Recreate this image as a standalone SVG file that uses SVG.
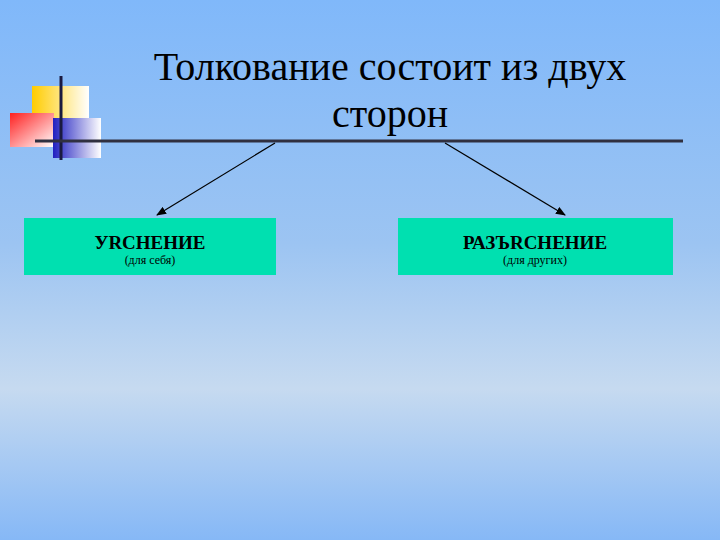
<svg xmlns="http://www.w3.org/2000/svg" width="720" height="540" viewBox="0 0 720 540">
<defs>
<linearGradient id="bg" x1="0" y1="0" x2="0" y2="1">
<stop offset="0" stop-color="#80b8fa"/><stop offset="0.45" stop-color="#9cc4f2"/><stop offset="0.72" stop-color="#c6daf0"/><stop offset="1" stop-color="#86b8f6"/>
</linearGradient>
<linearGradient id="yel" x1="0" y1="0" x2="1" y2="0"><stop offset="0" stop-color="#ffcc00"/><stop offset="1" stop-color="#ffffff"/></linearGradient>
<linearGradient id="red" x1="0" y1="0" x2="1" y2="1"><stop offset="0" stop-color="#ff2020"/><stop offset="1" stop-color="#ffffff"/></linearGradient>
<linearGradient id="blu" x1="0" y1="0" x2="1" y2="0"><stop offset="0" stop-color="#2020c0"/><stop offset="1" stop-color="#ffffff"/></linearGradient>
<marker id="ah" markerWidth="10" markerHeight="8" refX="9" refY="4" orient="auto" markerUnits="userSpaceOnUse"><path d="M0,0 L10,4 L0,8 Z" fill="#000"/></marker>
<style>
.box{fill:#00e0b0}
.t{font-family:"Liberation Serif",serif;text-anchor:middle}
.h{font-size:19px;font-weight:bold}
.s{font-size:12px}
.c{stroke:#000;stroke-width:1.2;fill:none}
</style>
</defs>
<rect width="720" height="540" fill="url(#bg)"/>
<g id="deco">
<rect x="32" y="86" width="57" height="46" fill="url(#yel)"/>
<rect x="10" y="113" width="44" height="34" fill="url(#red)"/>
<rect x="53" y="118" width="48" height="40" fill="url(#blu)"/>
<line x1="61" y1="76" x2="61" y2="160" stroke="#1a1a40" stroke-width="3"/>
<line x1="35" y1="141" x2="683" y2="141" stroke="#303040" stroke-width="3"/>
</g>
<g id="title"><text class="t" x="390" y="80" font-size="40">Толкование состоит из двух</text><text class="t" x="390" y="127" font-size="40">сторон</text></g>
<g id="n1"><rect class="box" x="24" y="218" width="252" height="57"/><text class="t h" x="150" y="249">УRСНЕНИЕ</text><text class="t s" x="150" y="264">(для себя)</text></g>
<g id="n2"><rect class="box" x="398" y="218" width="275" height="57"/><text class="t h" x="535" y="249">РАЗЪRСНЕНИЕ</text><text class="t s" x="535" y="264">(для других)</text></g>
<g id="connectors">
<line class="c" x1="275" y1="143" x2="157" y2="215" marker-end="url(#ah)"/>
<line class="c" x1="445" y1="143" x2="565" y2="215" marker-end="url(#ah)"/>
</g>
</svg>
